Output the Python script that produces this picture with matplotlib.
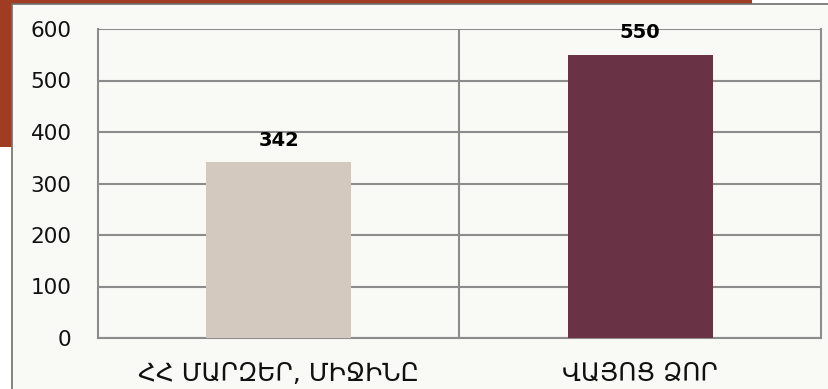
import matplotlib.pyplot as plt
from matplotlib.patches import Rectangle

categories = ["ՀՀ ՄԱՐԶԵՐ, ՄԻՋԻՆԸ", "ՎԱՅՈՑ ՁՈՐ"]
values = [342, 550]
colors = ["#D3C9BF", "#693345"]
yticks = [0, 100, 200, 300, 400, 500, 600]

W, H = 829, 389
fig = plt.figure(figsize=(W / 100, H / 100), dpi=100, facecolor="white")

# rust block behind the top-left corner
fig.patches.append(Rectangle((0, 1 - 147 / H), 752 / W, 147 / H,
                             transform=fig.transFigure, facecolor="#A03C22",
                             edgecolor="none", zorder=-2))
# chart panel
fig.patches.append(Rectangle((12 / W, -0.1), 1.2, 1.1 - 4 / H,
                             transform=fig.transFigure, facecolor="#F9F9F6",
                             edgecolor="#6E6E6E", linewidth=1.2, zorder=-1))

ax = fig.add_axes([98 / W, (H - 338) / H, (821 - 98) / W, (338 - 29) / H])
ax.set_facecolor("none")
ax.set_zorder(2)

x = range(len(categories))
bars = ax.bar(x, values, width=0.4, color=colors, zorder=3)
for b, v in zip(bars, values):
    ax.text(b.get_x() + b.get_width() / 2, v + 24, str(v), ha="center",
            va="bottom", fontsize=14, fontweight="bold", color="black")

ax.set_xlim(-0.5, 1.5)
ax.set_ylim(0, 600)
ax.set_yticks(yticks)
ax.set_xticks(list(x))
ax.set_xticklabels(categories, fontsize=18)
ax.tick_params(axis="y", labelsize=15.5, length=0, pad=19, labelcolor="#111111")
ax.tick_params(axis="x", length=0, pad=17, labelcolor="#111111")

ax.yaxis.grid(True, color="#8C8C8C", linewidth=1.5, zorder=1)
ax.axvline(0.5, color="#8C8C8C", linewidth=1.5, zorder=1)
for s in ["left", "bottom", "right"]:
    ax.spines[s].set_color("#8C8C8C")
    ax.spines[s].set_linewidth(1.5)
ax.spines["top"].set_visible(False)

fig.savefig("out.png", dpi=100, facecolor=fig.get_facecolor())
